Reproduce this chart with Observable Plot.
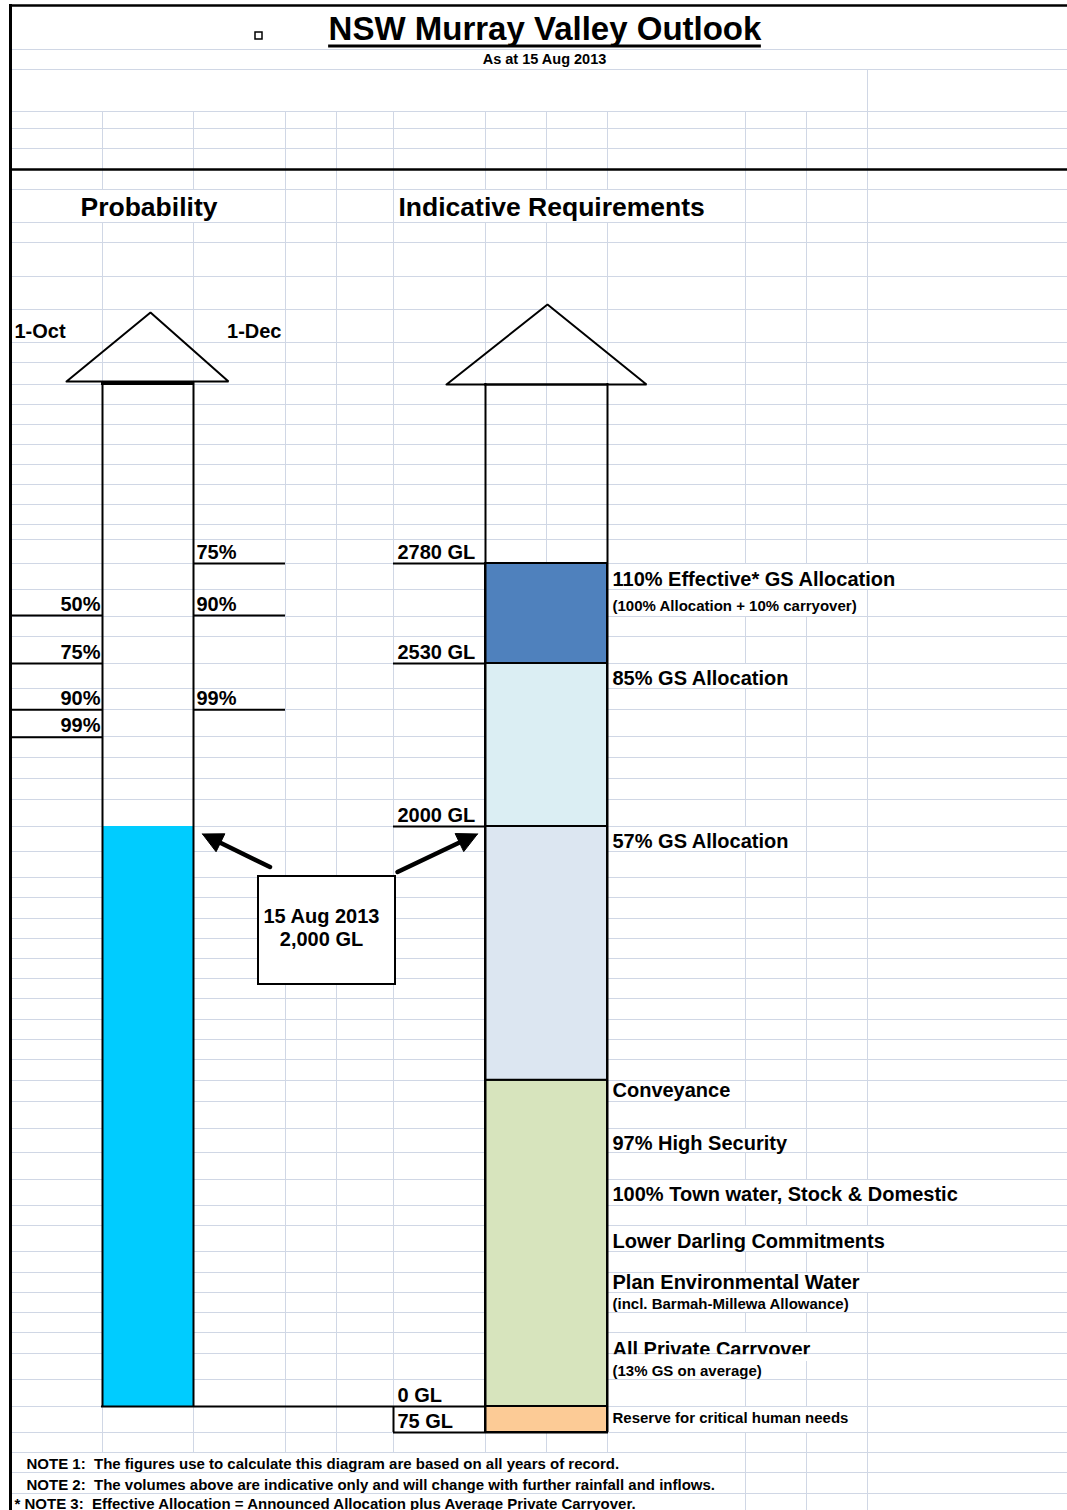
<!DOCTYPE html>
<html>
<head>
<meta charset="utf-8">
<script src="https://cdn.jsdelivr.net/npm/d3@7"></script>
<script src="https://cdn.jsdelivr.net/npm/@observablehq/plot@0.6"></script>
<style>
  html, body { margin: 0; padding: 0; background: #fff; }
  svg text { white-space: pre; }
</style>
</head>
<body>
<div id="chart"></div>
<script>
// ================= DATA =================
const title = "NSW Murray Valley Outlook";
const subtitle = "As at 15 Aug 2013";
const probHeading = "Probability";
const reqHeading = "Indicative Requirements";
const probDates = ["1-Oct", "1-Dec"];

// current storage (GL)
const currentDate = "15 Aug 2013";
const currentVolume = 2000;
const currentLabel = "2,000 GL";

// probability of reaching a volume by 1-Oct / 1-Dec (volumes in GL, estimated)
const octProbLabels = ["50%", "75%", "90%", "99%"];
const octProbVolumes = [2650, 2530, 2380, 2290];
const decProbLabels = ["75%", "90%", "99%"];
const decProbVolumes = [2780, 2650, 2380];

// volume levels (GL)
const levelVolumes = [2780, 2530, 2000, 0, -75];
const levelLabels = ["2780 GL", "2530 GL", "2000 GL", "0 GL", "75 GL"];

// requirement blocks (GL)
const reqNames = ["Reserve for critical human needs", "Base commitments", "57% GS Allocation", "85% GS Allocation", "110% Effective* GS Allocation"];
const reqFrom = [-75, 0, 1125, 2000, 2530];
const reqTo = [0, 1125, 2000, 2530, 2780];

// side labels of the requirement column
const sideLabels = [
  "110% Effective* GS Allocation", "(100% Allocation + 10% carryover)", "85% GS Allocation",
  "57% GS Allocation", "Conveyance", "97% High Security", "100% Town water, Stock & Domestic",
  "Lower Darling Commitments", "Plan Environmental Water", "(incl. Barmah-Millewa Allowance)",
  "All Private Carryover", "(13% GS on average)", "Reserve for critical human needs"
];
const sideLabelKinds = ["main", "note", "main", "main", "main", "main", "main", "main", "main", "note", "main", "note", "note"];

const notes = [
  "NOTE 1:  The figures use to calculate this diagram are based on all years of record.",
  "NOTE 2:  The volumes above are indicative only and will change with further rainfall and inflows.",
  "* NOTE 3:  Effective Allocation = Announced Allocation plus Average Private Carryover."
];

// ================= STYLE / LAYOUT =================
const W = 1067, H = 1510;
const FONT = '"Liberation Sans", Arial, Helvetica, sans-serif';
const GRID = "#D0D7E5";
const reqColors = ["#FCCB96", "#D7E4BD", "#DCE6F1", "#DBEEF3", "#4F81BD"];
const barColor = "#00CCFF";

// sheet columns and rows (pixels)
const cols = [102, 193, 285, 336, 393, 485, 546, 607, 745, 806, 867];
const rows = [5, 49, 69, 111, 128, 148, 169, 189, 222, 242, 276, 309, 342, 362, 384, 404, 424, 444, 464, 484, 504, 524, 539,
  563, 589, 616, 636, 663, 688, 709, 736, 757, 778, 799, 826, 851, 877, 897, 918, 938, 958, 978, 998, 1019, 1039, 1059, 1080,
  1101, 1128, 1152, 1179, 1205, 1225, 1251, 1272, 1292, 1312, 1332, 1353, 1379, 1406, 1432, 1452, 1472, 1493, 1510];

// piecewise volume scale (the sheet is not drawn to scale)
const glAnchors = [-300, -75, 0, 2000, 2530, 2780, 4187.5];
const pxAnchors = [1510, 1432, 1406, 826, 663, 563, 0];
const yScale = Plot.scale({y: {type: "linear", domain: glAnchors, range: pxAnchors}});
const Y = (px) => yScale.invert(px);

const sideRows = [[563, 589, 585], [589, 616, 610], [663, 688, 684], [826, 851, 847], [1080, 1101, 1096], [1128, 1152, 1149],
  [1179, 1205, 1200], [1225, 1251, 1247], [1272, 1292, 1288], [1292, 1312, 1308], [1332, 1353, 1355], [1353, 1379, 1375], [1406, 1432, 1422]];
const noteRows = [[1452, 1472, 1468, 26], [1472, 1493, 1489, 26], [1493, 1510, 1508, 14]];

const ctx = document.createElement("canvas").getContext("2d");
const textWidth = (t, size) => { ctx.font = `bold ${size}px ${FONT}`; return ctx.measureText(t).width; };

// text overflow regions hide vertical gridlines (as in the spreadsheet)
const overflow = [];
overflow.push({top: 189, bottom: 222, x0: 80, x1: 80 + textWidth(probHeading, 26.5)});
overflow.push({top: 189, bottom: 222, x0: 398, x1: 398 + textWidth(reqHeading, 26.5)});
sideLabels.forEach((t, i) => {
  const s = sideLabelKinds[i] === "main" ? 20 : 15;
  overflow.push({top: sideRows[i][0], bottom: sideRows[i][1], x0: 610, x1: 612 + textWidth(t, s)});
});
notes.forEach((t, i) => overflow.push({top: noteRows[i][0], bottom: noteRows[i][1], x0: 12, x1: noteRows[i][3] + textWidth(t, 15)}));

const vSegs = [];
for (let i = 0; i < rows.length - 1; i++) {
  const top = rows[i], bottom = rows[i + 1];
  for (const c of cols) {
    if (top < 111 && !(c === 867 && top >= 69)) continue;
    if (overflow.some(o => o.top <= top && bottom <= o.bottom && c > o.x0 && c < o.x1 + 8)) continue;
    vSegs.push({x: c, top, bottom});
  }
}
const gridRows = rows.filter(r => r !== 5 && r !== 169 && r !== 1510);

// arrow heads (outline triangles) on top of both columns
const heads = [
  {id: "p", x: 66, y: 381}, {id: "p", x: 150, y: 312}, {id: "p", x: 228, y: 381}, {id: "p", x: 66, y: 381},
  {id: "r", x: 446, y: 384}, {id: "r", x: 547, y: 304}, {id: "r", x: 646, y: 384}, {id: "r", x: 446, y: 384}
];

// callout pointers
function pointer(id, tail, tip) {
  const dx = tip[0] - tail[0], dy = tip[1] - tail[1], len = Math.hypot(dx, dy);
  const ux = dx / len, uy = dy / len, h = 20, w = 20;
  const bx = tip[0] - ux * h, by = tip[1] - uy * h, nx = -uy, ny = ux;
  return {
    shaft: [{id, x: tail[0], y: tail[1]}, {id, x: tip[0] - ux * (h - 3), y: tip[1] - uy * (h - 3)}],
    head: [{id, x: tip[0], y: tip[1]}, {id, x: bx + nx * w / 2, y: by + ny * w / 2}, {id, x: bx - nx * w / 2, y: by - ny * w / 2}, {id, x: tip[0], y: tip[1]}]
  };
}
const pL = pointer("l", [269.5, 866.5], [202, 833.5]);
const pR = pointer("r", [397, 871.5], [477, 833.5]);

const reqData = reqNames.map((name, i) => ({name, from: reqFrom[i], to: reqTo[i]}));
const octData = octProbLabels.map((label, i) => ({label, v: octProbVolumes[i]}));
const decData = decProbLabels.map((label, i) => ({label, v: decProbVolumes[i]}));
const levelData = levelLabels.map((label, i) => ({label, v: levelVolumes[i]}));
const sideData = sideLabels.map((label, i) => ({label, kind: sideLabelKinds[i], base: sideRows[i][2]}));
const noteData = notes.map((label, i) => ({label, base: noteRows[i][2], x: noteRows[i][3]}));

const titleW = textWidth(title, 33);
const txt = {fontFamily: FONT, fontWeight: "bold", fill: "black", lineAnchor: "bottom"};

const chart = Plot.plot({
  width: W, height: H, margin: 0,
  style: {background: "white", fontFamily: FONT, overflow: "visible"},
  x: {type: "linear", domain: [0, W], range: [0, W], axis: null},
  y: {type: "linear", domain: glAnchors, range: pxAnchors, axis: null},
  color: {type: "ordinal", domain: reqNames, range: reqColors},
  marks: [
    // spreadsheet gridlines
    Plot.ruleY(gridRows, {y: r => Y(r), x1: 10, x2: W, stroke: GRID, strokeWidth: 1}),
    Plot.ruleX(vSegs, {x: "x", y1: d => Y(d.top), y2: d => Y(d.bottom), stroke: GRID, strokeWidth: 1}),

    // sheet borders
    Plot.ruleY([Y(5), Y(169)], {y: d => d, x1: 10, x2: W, stroke: "black", strokeWidth: 2.5}),
    Plot.ruleX([10], {x: d => d, y1: Y(4), y2: Y(1510), stroke: "black", strokeWidth: 3}),

    // title
    Plot.text([title], {...txt, text: d => d, x: 544.5, y: Y(39), fontSize: 33, textAnchor: "middle"}),
    Plot.ruleY([Y(45.5)], {y: d => d, x1: 544.5 - titleW / 2, x2: 544.5 + titleW / 2, stroke: "black", strokeWidth: 3}),
    Plot.rect([0], {x1: 255, x2: 262, y1: Y(32), y2: Y(39), fill: "none", stroke: "black", strokeWidth: 1.5}),
    Plot.text([subtitle], {...txt, text: d => d, x: 544, y: Y(63), fontSize: 14.5, textAnchor: "middle"}),

    // headings
    Plot.text([probHeading], {...txt, text: d => d, x: 80, y: Y(215), fontSize: 26.5, textAnchor: "start"}),
    Plot.text([reqHeading], {...txt, text: d => d, x: 398, y: Y(215), fontSize: 26.5, textAnchor: "start"}),
    Plot.text([probDates[0]], {...txt, text: d => d, x: 14, y: Y(337), fontSize: 20, textAnchor: "start"}),
    Plot.text([probDates[1]], {...txt, text: d => d, x: 281, y: Y(337), fontSize: 20, textAnchor: "end"}),

    // callout box
    Plot.rect([currentVolume], {x1: 258, x2: 395, y1: Y(876), y2: Y(984), fill: "white", stroke: "black", strokeWidth: 2}),
    Plot.text([currentDate, currentLabel], {...txt, text: d => d, x: 321, y: (d, i) => Y(i === 0 ? 922 : 945), fontSize: 20, textAnchor: "middle"}),

    // requirement blocks
    Plot.rect(reqData, {x1: 485, x2: 607, y1: "from", y2: "to", fill: "name", stroke: "black", strokeWidth: 2}),
    // current storage bar
    Plot.rect([currentVolume], {x1: 102, x2: 193, y1: 0, y2: d => d, fill: barColor}),

    // arrow shafts and heads
    Plot.ruleX([102, 193], {x: d => d, y1: Y(382), y2: 0, stroke: "black", strokeWidth: 2}),
    Plot.ruleX([485, 607], {x: d => d, y1: Y(383), y2: -75, stroke: "black", strokeWidth: 2}),
    Plot.ruleY([Y(383)], {y: d => d, x1: 101, x2: 194, stroke: "black", strokeWidth: 3}),
    Plot.ruleY([Y(384)], {y: d => d, x1: 484, x2: 608, stroke: "black", strokeWidth: 2}),
    Plot.line(heads, {x: "x", y: d => Y(d.y), z: "id", stroke: "black", strokeWidth: 2, strokeLinejoin: "miter"}),

    // probability lines and labels
    Plot.ruleY(octData, {y: "v", x1: 10, x2: 102, stroke: "black", strokeWidth: 2}),
    Plot.ruleY(decData, {y: "v", x1: 193, x2: 285, stroke: "black", strokeWidth: 2}),
    Plot.text(octData, {...txt, text: "label", x: 100, y: "v", dy: -5, fontSize: 20, textAnchor: "end"}),
    Plot.text(decData, {...txt, text: "label", x: 196, y: "v", dy: -5, fontSize: 20, textAnchor: "start"}),

    // volume levels
    Plot.ruleY(levelData.filter(d => d.v > 0), {y: "v", x1: 393, x2: 485, stroke: "black", strokeWidth: 2}),
    Plot.ruleY([0], {y: d => d, x1: 101, x2: 485, stroke: "black", strokeWidth: 2}),
    Plot.ruleY([-75], {y: d => d, x1: 393, x2: 608, stroke: "black", strokeWidth: 2}),
    Plot.ruleX([393], {x: d => d, y1: 0, y2: -75, stroke: "black", strokeWidth: 2}),
    Plot.text(levelData, {...txt, text: "label", x: 397, y: "v", dy: -5, fontSize: 20, textAnchor: "start"}),

    // side labels
    Plot.text(sideData, {...txt, text: "label", x: 612, y: d => Y(d.base), fontSize: d => d.kind === "main" ? 20 : 15, textAnchor: "start"}),
    // the cell clips the bottom of "All Private Carryover"
    Plot.rect([0], {x1: 609, x2: 840, y1: Y(1354.2), y2: Y(1361), fill: "white"}),

    // pointers from the callout
    Plot.line([...pL.shaft, ...pR.shaft], {x: "x", y: d => Y(d.y), z: "id", stroke: "black", strokeWidth: 4.5}),
    Plot.line([...pL.head, ...pR.head], {x: "x", y: d => Y(d.y), z: "id", fill: "black", stroke: "black", strokeWidth: 1}),

    // notes
    Plot.text(noteData, {...txt, text: "label", x: "x", y: d => Y(d.base), fontSize: 15, textAnchor: "start"})
  ]
});
document.getElementById("chart").appendChild(chart);
</script>
</body>
</html>
